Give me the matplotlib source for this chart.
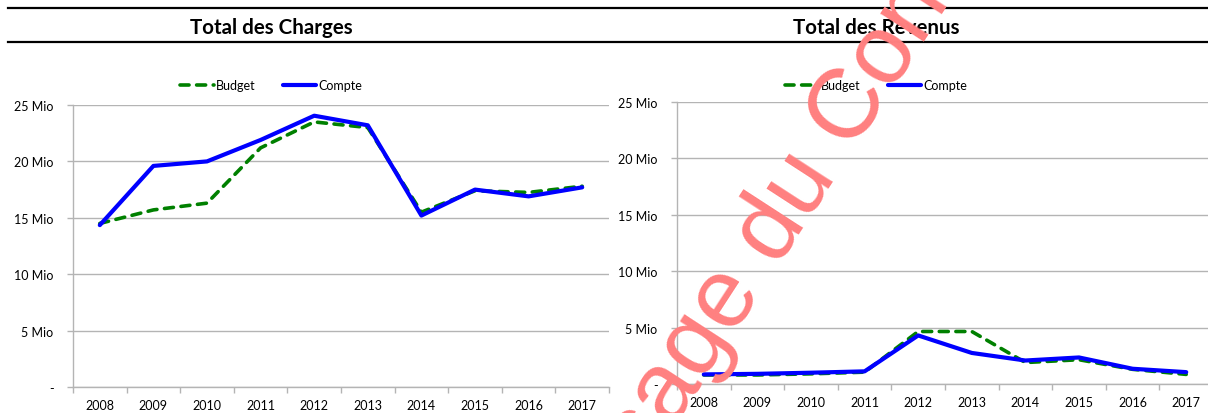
import matplotlib
matplotlib.use("Agg")
import matplotlib.pyplot as plt
from matplotlib.lines import Line2D

plt.rcParams['font.family'] = ['Lato', 'DejaVu Sans']

annees = ['2008', '2009', '2010', '2011', '2012', '2013', '2014', '2015', '2016', '2017']

# valeurs en millions
charges_budget = [14.5, 15.7, 16.3, 21.2, 23.5, 23.0, 15.5, 17.4, 17.25, 17.8]
charges_compte = [14.35, 19.6, 20.0, 21.9, 24.05, 23.2, 15.2, 17.5, 16.9, 17.7]
revenus_budget = [0.8, 0.8, 0.9, 1.05, 4.65, 4.65, 1.9, 2.15, 1.3, 0.85]
revenus_compte = [0.85, 0.9, 1.0, 1.12, 4.3, 2.75, 2.08, 2.35, 1.35, 1.05]

yticks = [0, 5, 10, 15, 20, 25]
ylabels = ['-', '5 Mio', '10 Mio', '15 Mio', '20 Mio', '25 Mio']

W, H = 1208, 414
fig = plt.figure(figsize=(W / 100, H / 100), dpi=100)

grid_col = '#B4B4B4'


def panel(rect, titre, budget, compte, centre_x):
    ax = fig.add_axes(rect)
    x = list(range(len(annees)))
    ax.plot(x, budget, color='#008000', lw=2.6, dashes=(2.5, 2.1),
            dash_capstyle='round', label='Budget', zorder=3)
    ax.plot(x, compte, color='#0000FF', lw=3.0, solid_capstyle='round',
            label='Compte', zorder=4)
    ax.set_xlim(-0.5, len(annees) - 0.5)
    ax.set_ylim(0, 25)
    ax.set_yticks(yticks)
    ax.set_yticklabels(ylabels)
    ax.set_xticks(x)
    ax.set_xticklabels(annees)
    ax.set_xticks([i - 0.5 for i in range(len(annees) + 1)], minor=True)
    ax.tick_params(axis='x', which='major', length=0, pad=9, labelsize=9, colors='black')
    ax.tick_params(axis='x', which='minor', length=4, width=1, color=grid_col, direction='out')
    ax.tick_params(axis='y', length=4, width=1, color=grid_col, pad=10, labelsize=9)
    ax.grid(axis='y', color=grid_col, lw=1)
    ax.set_axisbelow(True)
    for s in ['top', 'right']:
        ax.spines[s].set_visible(False)
    for s in ['left', 'bottom']:
        ax.spines[s].set_color(grid_col)
        ax.spines[s].set_linewidth(1)

    fig.text(centre_x / W, 1 - 28.5 / H, titre, ha='center', va='center',
             fontsize=14.8, fontweight='bold')
    ax.legend(loc='center', bbox_to_anchor=(centre_x / W, 1 - 86 / H),
              bbox_transform=fig.transFigure, ncol=2, frameon=False,
              fontsize=9, handlelength=2.7, handletextpad=0.15,
              columnspacing=2.2)
    return ax


panel([73 / W, 26 / H, 536 / W, 282 / H], 'Total des Charges',
      charges_budget, charges_compte, 271)
panel([677 / W, 29 / H, 536 / W, 282.3 / H], 'Total des Revenus',
      revenus_budget, revenus_compte, 876)

# lignes d'en-tete
for yy in [9, 42.7]:
    fig.add_artist(Line2D([8 / W, 1], [1 - yy / H, 1 - yy / H],
                          transform=fig.transFigure, color='black', lw=1.6))

# filigrane
fig.text(798 / W, 1 - 190 / H, 'Usage du Conseil', family='Liberation Sans',
         fontsize=71, color='#FF8080', rotation=57, rotation_mode='anchor',
         ha='center', va='center', zorder=10)

fig.savefig('out.png', dpi=100)
